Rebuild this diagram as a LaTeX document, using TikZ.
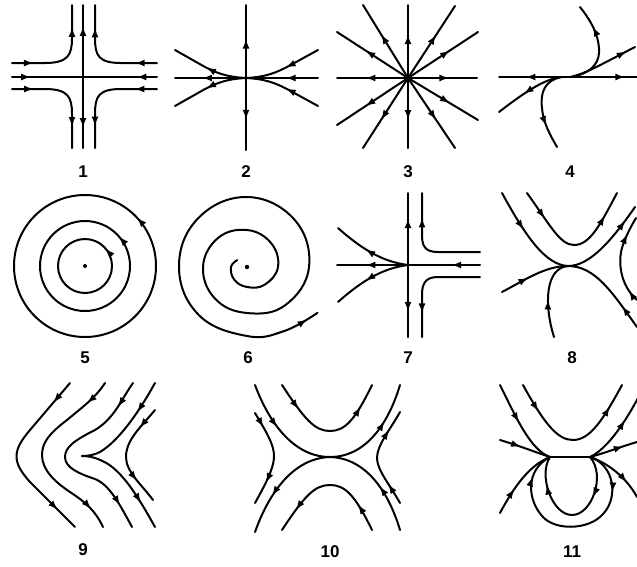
\documentclass[tikz,border=0pt]{standalone}
\usepackage{fontspec}
\setmainfont{Liberation Sans}
\usetikzlibrary{arrows.meta,decorations.markings}
\tikzset{
  ln/.style={line width=2pt, line cap=round, line join=round},
  ar/.style={postaction={decorate,decoration={markings,mark=at position #1 with {\arrow{Latex[length=10pt,width=7pt]}}}}},
  lab/.style={font=\fontsize{17}{20}\selectfont\bfseries, inner sep=0pt},
  dot/.style={circle, fill, inner sep=0pt, minimum size=4.5pt}
}
\begin{document}
\begin{tikzpicture}[x=1pt,y=-1pt]
\useasboundingbox (0,0) rectangle (637,566);
% ---------- Panel 1 ----------
\coordinate (c1) at (83,77);
\draw[ln,ar=0.27] (12,77) -- (c1);
\draw[ln,ar=0.28] (157,77) -- (c1);
\draw[ln,ar=0.71] (c1) -- (83,5);
\draw[ln,ar=0.72] (c1) -- (83,148);
\draw[ln,ar=0.20,ar=0.80] (12,63) -- (45,63) .. controls (68,63) and (72,55) .. (72,38) -- (72,5);
\draw[ln,ar=0.20,ar=0.80] (157,63) -- (121,63) .. controls (98,63) and (95,55) .. (95,38) -- (95,5);
\draw[ln,ar=0.20,ar=0.81] (12,89) -- (45,89) .. controls (68,89) and (72,97) .. (72,114) -- (72,148);
\draw[ln,ar=0.20,ar=0.81] (157,89) -- (121,89) .. controls (98,89) and (95,97) .. (95,114) -- (95,148);
\node[lab] (l1) at (83,172) {1};
% ---------- Panel 2 ----------
\coordinate (c2) at (246,78);
\draw[ln,ar=0.54] (c2) -- (246,5);
\draw[ln,ar=0.58] (c2) -- (246,150);
\draw[ln,ar=0.45] (318,78) -- (c2);
\draw[ln,ar=0.62] (c2) -- (175,78);
\draw[ln,ar=0.54] (c2) .. controls (225,77) and (215,72) .. (205,67) -- (175,50);
\draw[ln,ar=0.54] (c2) .. controls (225,79) and (215,84) .. (205,89) -- (175,106);
\draw[ln,ar=0.47] (318,50) -- (287,67) .. controls (277,72) and (267,77) .. (c2);
\draw[ln,ar=0.47] (318,106) -- (287,89) .. controls (277,84) and (267,79) .. (c2);
\node[lab] (l2) at (246,172) {2};
% ---------- Panel 3 ----------
\coordinate (c3) at (408,78);
\foreach \p in {(408,5),(408,148),(337,78),(477,78),(363,5),(455,6),(337,32),(478,32),(337,125),(478,120),(363,148),(455,148)}
  \draw[ln,ar=0.6] (c3) -- \p;
\node[lab] (l3) at (408,172) {3};
% ---------- Panel 4 ----------
\coordinate (c4) at (565,77);
\draw[ln,ar=0.60] (c4) -- (499,77);
\draw[ln,ar=0.84] (c4) -- (637,77);
\draw[ln,ar=0.74] (572,77) .. controls (595,72) and (600,60) .. (599,48) .. controls (598,35) and (592,22) .. (580,7);
\draw[ln,ar=0.87] (570,77) .. controls (585,74) and (600,65) .. (635,47);
\draw[ln,ar=0.57] (560,77) .. controls (545,80) and (530,88) .. (499,112);
\draw[ln,ar=0.72] (562,77) .. controls (545,80) and (540,92) .. (542,108) .. controls (543,122) and (550,135) .. (557,147);
\node[lab] (l4) at (570,172) {4};
% ---------- Panel 5 ----------
\node[dot,minimum size=4pt] (d5) at (85,266) {};
\draw[ln,ar=0.115] (112,266) arc[start angle=0, end angle=-360, radius=27];
\draw[ln,ar=0.115] (130,266) arc[start angle=0, end angle=-360, radius=45];
\draw[ln,ar=0.12] (156,266) arc[start angle=0, end angle=-360, radius=71];
\node[lab] (l5) at (85,358) {5};
% ---------- Panel 6 ----------
\node[dot] (d6) at (247,267) {};
\draw[ln,ar=-12pt] plot[smooth, tension=0.7] coordinates {
 (237.2,260.1) (231,267) (234.3,279.7) (247,287) (264.7,284.7) (278,267)
 (271.0,243.0) (247,230) (218.0,238.0) (203,267) (215.2,298.8) (247,313)
 (285.2,305.2) (309,267) (294.4,219.6) (247,197) (198.2,218.2) (179,267)
 (198.9,315.1) (247,336) (284,331.1) (317.5,312.8)};
\node[lab] (l6) at (248,358) {6};
% ---------- Panel 7 ----------
\coordinate (c7) at (408,265);
\draw[ln,ar=0.65] (c7) -- (408,193);
\draw[ln,ar=0.65] (c7) -- (408,337);
\draw[ln,ar=0.60] (c7) -- (337,265);
\draw[ln,ar=0.40] (480,265) -- (c7);
\draw[ln,ar=0.57] (c7) .. controls (385,262) and (365,252) .. (338,228);
\draw[ln,ar=0.57] (c7) .. controls (385,268) and (365,278) .. (338,302);
\draw[ln,ar=0.78] (480,252) -- (438,252) .. controls (425,252) and (422,246) .. (422,235) -- (422,193);
\draw[ln,ar=0.79] (480,277) -- (438,277) .. controls (425,277) and (422,284) .. (422,295) -- (422,337);
\node[lab] (l7) at (408,358) {7};
% ---------- Panel 8 ----------
\coordinate (c8) at (568,266);
\draw[ln,ar=0.42] (502,193) .. controls (525,235) and (545,265) .. (c8);
\draw[ln,ar=0.82] (c8) .. controls (590,266) and (612,240) .. (635,207);
\draw[ln,ar=0.42] (502,292) .. controls (525,280) and (545,266) .. (c8);
\draw[ln,ar=0.47] (554,337) .. controls (544,305) and (545,268) .. (c8);
\draw[ln,ar=0.27] (637,327) .. controls (612,292) and (595,266) .. (c8);
\draw[ln,ar=0.22,ar=0.82] (527,193) .. controls (550,225) and (560,245) .. (574,245) .. controls (590,245) and (600,225) .. (617,193);
\draw[ln,ar=0.14,ar=0.80] (637,300) .. controls (620,285) and (618,262) .. (622,248) .. controls (625,238) and (630,228) .. (636,218);
\node[lab] (l8) at (572,358) {8};
% ---------- Panel 9 ----------
\draw[ln,ar=0.14,ar=0.87] (70,383) -- (30,430) .. controls (12,451) and (12,462) .. (30,482) -- (75,527);
\draw[ln,ar=0.14,ar=0.89] (105,383) .. controls (95,398) and (85,405) .. (67,420) .. controls (50,433) and (42,442) .. (42,455) .. controls (42,470) and (55,482) .. (70,492) .. controls (85,502) and (95,510) .. (103,527);
\draw[ln,ar=0.14,ar=0.88] (133,383) .. controls (122,398) and (115,418) .. (95,430) .. controls (75,440) and (65,447) .. (65,457) .. controls (65,468) and (80,474) .. (95,479) .. controls (110,485) and (120,505) .. (132,527);
\coordinate (c9) at (82,456);
\draw[ln,ar=0.32] (155,383) .. controls (140,410) and (120,440) .. (100,452) .. controls (94,455) and (88,456) .. (c9);
\draw[ln,ar=0.74] (c9) .. controls (90,456) and (98,458) .. (108,464) .. controls (125,475) and (140,500) .. (155,527);
\draw[ln,ar=0.22,ar=0.77] (155,410) .. controls (140,428) and (126,440) .. (126,457) .. controls (126,472) and (142,485) .. (153,500);
\node[lab] (l9) at (83,550) {9};
% ---------- Panel 10 ----------
\coordinate (c10) at (330,457);
\draw[ln,ar=0.22,ar=0.82] (282,385) .. controls (305,420) and (315,431) .. (330,431) .. controls (345,431) and (355,420) .. (372,385);
\draw[ln,ar=0.22,ar=0.82] (372,530) .. controls (355,495) and (345,485) .. (330,485) .. controls (315,485) and (305,495) .. (282,530);
\draw[ln,ar=0.22,ar=0.82] (255,385) .. controls (270,425) and (295,457) .. (c10) .. controls (365,457) and (388,425) .. (400,385);
\draw[ln,ar=0.22,ar=0.82] (400,530) .. controls (388,490) and (365,458) .. (c10) .. controls (295,458) and (270,490) .. (255,532);
\draw[ln,ar=0.17,ar=0.77] (255,413) .. controls (265,430) and (275,445) .. (274,458) .. controls (273,470) and (265,485) .. (255,503);
\draw[ln,ar=0.22,ar=0.80] (400,503) .. controls (390,485) and (377,470) .. (377,458) .. controls (377,445) and (390,430) .. (400,412);
\node[lab] (l10) at (330,552) {10};
% ---------- Panel 11 ----------
\coordinate (p1) at (550,457);
\coordinate (p2) at (590,457);
\draw[ln] (p1) -- (p2);
\draw[ln,ar=0.20,ar=0.84] (523,385) .. controls (545,425) and (558,440) .. (573,440) .. controls (590,440) and (603,420) .. (622,385);
\draw[ln,ar=0.47] (500,385) .. controls (515,415) and (530,450) .. (p1);
\draw[ln,ar=0.67] (p2) .. controls (605,450) and (622,428) .. (638,398);
\draw[ln,ar=0.42] (500,440) .. controls (520,446) and (535,452) .. (p1);
\draw[ln,ar=0.72] (p2) .. controls (605,453) and (620,447) .. (637,442);
\draw[ln,ar=0.37] (500,513) .. controls (515,485) and (530,465) .. (p1);
\draw[ln,ar=0.72] (p2) .. controls (605,462) and (625,475) .. (637,497);
\draw[ln,ar=0.30,ar=0.80] (p2) .. controls (606,475) and (592,515) .. (572,515) .. controls (552,515) and (538,475) .. (p1);
\draw[ln,ar=0.22,ar=0.87] (p2) .. controls (615,465) and (620,500) .. (600,517) .. controls (585,530) and (555,530) .. (543,517) .. controls (527,500) and (525,470) .. (p1);
\node[lab] (l11) at (572,552) {11};
\end{tikzpicture}
\end{document}
